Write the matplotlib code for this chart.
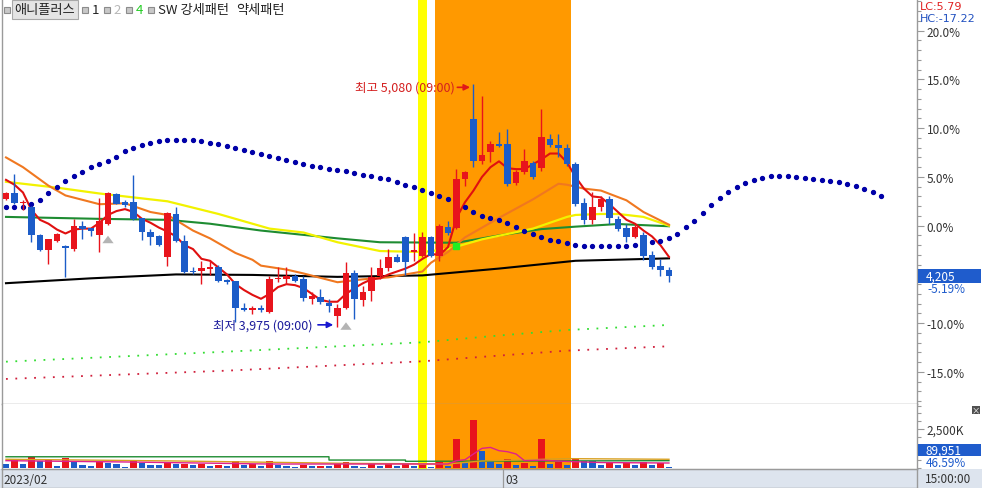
import numpy as np
import matplotlib
matplotlib.use("Agg")
import matplotlib.pyplot as plt
from matplotlib.patches import Rectangle
from matplotlib.ticker import MultipleLocator
import matplotlib.transforms as mtransforms

plt.rcParams['font.family'] = ['Noto Sans CJK KR', 'DejaVu Sans']

W, H = 982, 489

# daily candles, % change against base price
base_price = 4435
open_pct = [2.74, 3.35, 2.33, 1.95, -0.92, -2.46, -1.54, -2.08, -2.39, -0.06,
            -0.27, -0.92, 0.17, 3.25, 2.40, 2.40, 0.76, -0.68, -1.03, -3.24,
            1.20, -1.54, -4.62, -4.65, -4.44, -4.27, -5.57, -5.70, -8.47, -8.68,
            -8.41, -8.88, -5.47, -5.47, -5.13, -5.47, -7.52, -7.28, -7.93, -9.23,
            -8.47, -4.88, -7.59, -6.67, -5.13, -4.37, -3.24, -1.19, -2.70, -3.08,
            -1.19, -3.08, -0.16, -0.27, 4.79, 10.94, 6.67, 7.59, 8.38, 8.38,
            4.35, 5.48, 6.40, 5.89, 8.89, 8.28, 7.94, 6.33, 2.33, 0.62,
            1.89, 2.74, 0.69, -0.27, -1.19, -0.95, -3.01, -4.10, -4.51]
high_pct = [3.46, 5.30, 2.64, 2.02, -0.85, -1.36, -0.75, -1.98, 0.69, 0.51,
            -0.24, 2.81, 3.46, 3.35, 2.64, 5.20, 0.79, -0.34, -0.95, 1.41,
            1.89, -0.95, -4.24, -3.59, -3.49, -4.03, -5.47, -5.64, -7.93, -8.27,
            -8.13, -5.13, -4.27, -4.27, -4.95, -5.13, -6.83, -6.49, -7.52, -8.03,
            -3.72, -4.54, -6.15, -4.27, -3.42, -2.39, -2.90, -1.03, -0.75, -0.65,
            -1.06, 0.17, 0.51, 5.82, 5.61, 14.54, 13.33, 8.72, 9.61, 9.92,
            5.71, 7.87, 6.64, 11.97, 9.40, 9.40, 8.38, 6.53, 2.81, 3.43,
            3.08, 3.08, 1.03, 0.17, 0.07, -0.68, -2.56, -3.42, -4.27]
low_pct = [2.64, 2.23, 1.56, -1.67, -2.59, -3.93, -1.67, -5.23, -2.56, -1.36,
           -1.01, -2.67, 0.07, 2.23, 1.92, 0.58, -1.47, -1.98, -2.08, -4.13,
           -1.67, -4.85, -4.95, -5.98, -5.06, -5.77, -5.98, -9.85, -8.75, -9.06,
           -8.88, -8.95, -5.80, -5.98, -5.80, -7.69, -8.03, -8.03, -8.88, -10.37,
           -8.54, -9.57, -8.21, -7.69, -5.47, -4.62, -3.75, -5.06, -3.62, -3.21,
           -3.21, -3.59, -0.95, -0.34, 4.10, 5.99, 6.33, 6.50, 8.07, 4.10,
           4.17, 5.30, 4.79, 5.61, 8.07, 7.05, 6.12, 2.05, 0.17, 0.17,
           1.54, 0.17, -0.51, -1.70, -1.26, -3.49, -4.44, -5.13, -5.80]
close_pct = [3.35, 2.33, 2.43, -0.95, -2.49, -1.36, -0.85, -2.32, -0.06, -0.34,
             -0.54, 0.51, 3.35, 2.23, 2.15, 0.69, -0.68, -1.13, -1.98, 1.30,
             -1.60, -4.72, -4.78, -4.37, -4.24, -5.64, -5.74, -8.47, -8.68, -8.47,
             -8.68, -5.47, -5.39, -5.19, -5.64, -7.45, -7.24, -7.86, -8.21, -8.47,
             -4.88, -7.52, -6.77, -5.29, -4.37, -3.24, -3.69, -3.69, -2.49, -1.19,
             -3.08, 0.00, -0.75, 4.79, 5.48, 6.67, 7.25, 8.38, 8.14, 4.28,
             5.48, 6.67, 4.96, 9.07, 8.28, 7.94, 6.33, 2.23, 0.62, 1.89,
             2.74, 0.76, -0.34, -1.13, -0.16, -3.08, -4.21, -4.51, -5.19]
volume_k = [250, 510, 250, 720, 470, 510, 150, 640, 360, 190,
            150, 400, 300, 240, 90, 430, 320, 210, 200, 380,
            260, 280, 190, 240, 150, 190, 150, 470, 190, 230,
            130, 470, 190, 130, 90, 190, 130, 150, 100, 260,
            365, 150, 90, 256, 150, 300, 150, 256, 150, 190,
            90, 365, 150, 1860, 300, 3080, 1110, 470, 256, 580,
            190, 320, 150, 1860, 256, 365, 190, 580, 470, 460,
            190, 320, 190, 320, 210, 365, 210, 320, 90]

# moving averages (candle index, %)
ma5 = [4.7, 4.2, 3.4, 1.6, 0.6, 0.2, -0.4, -0.8, -0.4, -0.3,
       -0.3, 0.3, 1.1, 1.5, 1.7, 1.4, 0.7, 0.3, -0.2, -0.6,
       -1.1, -2.0, -2.4, -3.4, -3.6, -4.3, -5.0, -6.0, -6.6, -7.1,
       -7.5, -7.0, -6.3, -6.0, -6.1, -6.4, -7.0, -7.6, -7.8, -7.8,
       -7.0, -6.4, -5.9, -5.5, -5.4, -5.0, -4.7, -4.4, -4.0, -3.4,
       -2.9, -3.0, -2.2, 0.8, 2.4, 3.6, 5.0, 6.0, 6.6, 5.9,
       5.8, 5.8, 6.3, 6.8, 7.4, 7.4, 6.5, 5.0, 3.8, 3.0,
       2.9, 2.2, 1.4, 0.6, 0.2, -0.5, -1.1, -2.0, -3.2]
ma10_idx = [0, 2, 5, 7, 11, 14, 17, 19, 22, 24, 27, 29, 30, 33, 35, 39, 42, 45, 49, 50,
            52, 54, 58, 62, 65, 66, 68, 70, 73, 75, 78]
ma10 = [7.0, 6.0, 4.1, 3.1, 2.2, 2.3, 1.4, 1.1, -0.5, -1.3, -2.8, -3.5, -4.1, -4.5, -4.9,
        -5.8, -5.5, -5.3, -4.7, -3.8, -2.7, -1.2, 0.8, 2.7, 4.3, 4.2, 3.8, 3.6, 2.6, 1.4, 0.1]
ma20_idx = [0, 6, 11, 19, 25, 31, 35, 39, 44, 49, 52, 56, 62, 66, 67, 70, 72, 75, 78]
ma20 = [4.5, 3.9, 3.3, 2.5, 1.2, -0.3, -0.7, -1.7, -2.6, -2.7, -2.4, -1.4, -0.3, 0.9, 1.1,
        1.2, 1.2, 0.9, 0.0]
ma60_idx = [0, 11, 19, 24, 30, 39, 44, 53, 58, 63, 67, 72, 78]
ma60 = [0.9, 0.7, 0.6, 0.2, -0.5, -1.3, -1.7, -1.75, -1.0, -0.35, -0.1, 0.17, -0.06]
ma120_idx = [0, 10, 20, 29, 39, 49, 58, 67, 78]
ma120 = [-5.9, -5.4, -5.0, -5.05, -5.25, -5.1, -4.4, -3.6, -3.35]

# dotted indicator that runs past the last candle
dot_line = [1.95, 1.95, 1.95, 2.23, 2.67, 3.32, 4.00, 4.62, 5.13, 5.54,
            5.99, 6.36, 6.64, 7.05, 7.66, 7.97, 8.28, 8.48, 8.64, 8.74,
            8.79, 8.79, 8.74, 8.64, 8.48, 8.33, 8.17, 7.97, 7.76, 7.56,
            7.36, 7.15, 6.95, 6.74, 6.54, 6.33, 6.13, 5.97, 5.82, 5.71,
            5.58, 5.41, 5.23, 5.10, 4.92, 4.79, 4.51, 4.17, 3.94, 3.69,
            3.35, 3.08, 2.74, 2.33, 1.89, 1.37, 1.03, 0.82, 0.59, 0.25,
            -0.16, -0.51, -0.85, -1.13, -1.47, -1.57, -1.77, -1.95, -2.05, -2.05,
            -2.05, -2.05, -2.05, -2.05, -1.95, -1.77, -1.70, -1.62, -1.23, -0.82,
            -0.13, 0.48, 1.30, 2.12, 2.84, 3.46, 3.97, 4.38, 4.69, 4.89,
            5.05, 5.10, 5.05, 4.99, 4.89, 4.79, 4.69, 4.58, 4.43, 4.28,
            4.07, 3.76, 3.46, 3.05]

env_idx = [0, 26, 49, 57, 66, 78]
env_upper = [-13.95, -12.92, -11.96, -11.34, -10.70, -10.18]
env_lower = [-15.72, -14.87, -13.91, -13.39, -12.82, -12.37]

vol_ma5_idx = [0, 15, 31, 52, 53, 54, 55, 56, 57, 58, 59, 60, 61, 63, 66, 70, 78]
vol_ma5 = [470, 380, 255, 255, 470, 530, 900, 1260, 1320, 1110, 1045, 900, 470, 500, 420, 350, 320]
vol_ma20_idx = [0, 20, 40, 52, 56, 66, 78]
vol_ma20 = [560, 450, 300, 260, 450, 600, 560]
vol_ma60_idx = [0, 38, 38, 47, 47, 78]
vol_ma60 = [720, 720, 510, 510, 430, 470]

yellow_day = 49
orange_days = (51, 66)
buy_signal_idx = [12, 40]
buy_signal_pct = [-1.03, -9.91]
green_mark = (53, -2.05)
month_idx = [0, 59]
month_labels = ['2023/02', '03']

RED, BLUE = '#e8141c', '#1c5cc8'
GRAY = '#9a9a9a'


def box(x0, y0, x1, y1):
    return [x0 / W, 1 - y1 / H, (x1 - x0) / W, (y1 - y0) / H]


def fx(px):
    return px / W


def fy(py):
    return 1 - py / H


fig = plt.figure(figsize=(W / 100, H / 100), dpi=100)
fig.patches.append(Rectangle((0, 0), 1, 19 / H, transform=fig.transFigure,
                             facecolor='#dde4ee', edgecolor='none', zorder=-5))

ax = fig.add_axes(box(2, 0, 917, 405))
axv = fig.add_axes(box(2, 405, 917, 470), sharex=ax)
axd = fig.add_axes(box(2, 470, 917, 489), sharex=ax)

o, hi, lo, c = map(np.array, (open_pct, high_pct, low_pct, close_pct))
n = len(o)
x = np.arange(n)
cols = np.where(c >= o, RED, BLUE)

for a in (ax, axv):
    a.axvspan(yellow_day - 0.5, yellow_day + 0.5, color='#ffff00', lw=0, zorder=0)
    a.axvspan(orange_days[0] - 0.5, orange_days[1] + 0.5, color='#ff9900', lw=0, zorder=0)

# price panel
ax.plot(env_idx, env_upper, color='#33dd33', lw=1.3, ls=(0, (1, 4.2)), zorder=1)
ax.plot(env_idx, env_lower, color='#d0203c', lw=1.3, ls=(0, (1, 4.2)), zorder=1)
ax.plot(ma120_idx, ma120, color='black', lw=1.5, zorder=2)
ax.plot(ma60_idx, ma60, color='#1e8c32', lw=1.5, zorder=2)
ax.plot(ma20_idx, ma20, color='#f2f200', lw=1.6, zorder=2)
ax.plot(ma10_idx, ma10, color='#f07820', lw=1.5, zorder=2)
ax.plot(x, ma5, color='#e01010', lw=1.5, zorder=2.2)
ax.plot(np.arange(len(dot_line)), dot_line, 'o', ms=2.8, color='#0000a8', zorder=2.5)

body_bottom = np.minimum(o, c)
body_h = np.maximum(np.abs(c - o), 0.12)
ax.vlines(x, lo, hi, colors=cols, lw=1, zorder=3)
ax.bar(x, body_h, bottom=body_bottom, width=0.78, color=cols, lw=0, zorder=3.5)

ax.plot([green_mark[0]], [green_mark[1]], 's', ms=5, color='#22ee22', zorder=4)
for i, tip in zip(buy_signal_idx, buy_signal_pct):
    ax.annotate('', xy=(i, tip), xytext=(i, tip - 0.75),
                arrowprops=dict(arrowstyle='simple,head_length=0.6,head_width=0.9,tail_width=0.4',
                                color='#b4b4b4', lw=0, shrinkA=0, shrinkB=0,
                                mutation_scale=9), zorder=4)

i_hi = int(np.argmax(hi))
i_lo = int(np.argmin(lo))
hi_price = round(base_price * (1 + hi[i_hi] / 100))
lo_price = round(base_price * (1 + lo[i_lo] / 100))
ax.text(i_hi - 2.2, hi[i_hi] - 0.35, f'최고 {hi_price:,} (09:00)', color='#d42020',
        ha='right', va='center', fontsize=9, zorder=5)
ax.annotate('', xy=(i_hi - 0.4, hi[i_hi] - 0.35), xytext=(i_hi - 1.9, hi[i_hi] - 0.35),
            arrowprops=dict(arrowstyle='-|>', color='#e01818', lw=1.2, mutation_scale=9,
                            shrinkA=0, shrinkB=0), zorder=5)
ax.text(i_lo - 2.9, lo[i_lo] + 0.2, f'최저 {lo_price:,} (09:00)', color='#1c1c9c',
        ha='right', va='center', fontsize=9, zorder=5)
ax.annotate('', xy=(i_lo - 0.5, lo[i_lo] + 0.2), xytext=(i_lo - 2.3, lo[i_lo] + 0.2),
            arrowprops=dict(arrowstyle='-|>', color='#1818d0', lw=1.2, mutation_scale=9,
                            shrinkA=0, shrinkB=0), zorder=5)

ax.set_xlim(-0.47, 107.18)
ax.set_ylim(-18.29, 23.25)
ax.yaxis.tick_right()
yt = [-15, -10, -5, 0, 5, 10, 15, 20]
ax.set_yticks(yt)
ax.set_yticklabels(['' if v == -5 else f'{v:.1f}%' for v in yt])
ax.yaxis.set_minor_locator(MultipleLocator(1))
ax.tick_params(axis='y', which='major', length=5, width=0.8, color=GRAY,
               labelsize=8.5, labelcolor='#333333', pad=2)
ax.tick_params(axis='y', which='minor', length=3, width=0.8, color=GRAY)
ax.tick_params(axis='x', which='both', bottom=False, labelbottom=False)

# volume panel
v = np.array(volume_k)
vcols = [BLUE] + [RED if v[i] > v[i - 1] else BLUE for i in range(1, n)]
axv.bar(x, v, width=0.78, color=vcols, lw=0, zorder=2)
axv.plot(vol_ma60_idx, vol_ma60, color='#1e8c32', lw=1, zorder=3)
axv.plot(vol_ma20_idx, vol_ma20, color='#d8a020', lw=1, zorder=3)
axv.plot(vol_ma5_idx, vol_ma5, color='#e0208c', lw=1, zorder=3)
axv.set_ylim(-64, 4103)
axv.yaxis.tick_right()
axv.set_yticks([2500])
axv.set_yticklabels(['2,500K'])
axv.yaxis.set_minor_locator(MultipleLocator(500))
axv.tick_params(axis='y', which='major', length=5, width=0.8, color=GRAY,
                labelsize=8.5, labelcolor='#333333', pad=2)
axv.tick_params(axis='y', which='minor', length=3, width=0.8, color=GRAY)
axv.tick_params(axis='x', which='both', bottom=False, labelbottom=False)

# date strip
axd.set_facecolor('none')
axd.set_ylim(0, 1)
axd.set_yticks([])
axd.tick_params(axis='x', which='both', bottom=False, labelbottom=False)
for i, lab in zip(month_idx, month_labels):
    if i > 0:
        axd.axvline(i - 0.5, color=GRAY, lw=0.9)
    axd.text(i - 0.25 if i == 0 else i - 0.3, 0.45, lab, ha='left', va='center',
             fontsize=8.5, color='#333333')
fig.text(fx(925), fy(479.5), '15:00:00', ha='left', va='center', fontsize=8.5, color='#333333')

for a in (ax, axv, axd):
    a.spines['top'].set_visible(False)
    for s in ('left', 'right', 'bottom'):
        a.spines[s].set_color(GRAY)
        a.spines[s].set_linewidth(1)
axd.spines['top'].set_visible(True)
axd.spines['top'].set_color(GRAY)

# last price / volume tags on the right scale
tr = mtransforms.blended_transform_factory(ax.transAxes, ax.transData)
last_price = round(base_price * (1 + c[-1] / 100))
ax.add_patch(Rectangle((1.001, c[-1] - 0.66), 0.069, 1.44, transform=tr,
                       facecolor='#1f5ccc', edgecolor='none', clip_on=False, zorder=6))
ax.text(1.0095, c[-1] + 0.06, f'{last_price:,}', transform=tr, color='white',
        ha='left', va='center', fontsize=8.5, clip_on=False, zorder=7)
ax.text(1.0115, c[-1] - 1.25, f'{c[-1]:.2f}%', transform=tr, color='#1f5ccc',
        ha='left', va='center', fontsize=8.5, clip_on=False, zorder=7)

axv.add_patch(Rectangle((1.001, 0.2), 0.069, 0.185, transform=axv.transAxes,
                        facecolor='#1f5ccc', edgecolor='none', clip_on=False, zorder=6))
axv.text(1.0095, 0.29, '89,951', transform=axv.transAxes, color='white',
         ha='left', va='center', fontsize=8.5, clip_on=False, zorder=7)
axv.text(1.0095, 0.10, '46.59%', transform=axv.transAxes, color='#1f5ccc',
         ha='left', va='center', fontsize=8.5, clip_on=False, zorder=7)

fig.text(fx(920), fy(7), 'LC:5.79', color='#e02020', ha='left', va='center',
         fontsize=8, family='DejaVu Sans')
fig.text(fx(920), fy(19), 'HC:-17.22', color='#2050c0', ha='left', va='center',
         fontsize=8, family='DejaVu Sans')

fig.patches.append(Rectangle((fx(972), fy(415)), 8 / W, 8 / H, transform=fig.transFigure,
                             facecolor='#505050', edgecolor='none', zorder=8))
fig.text(fx(976), fy(411), '×', color='white', ha='center', va='center', fontsize=6, zorder=9)

# legend row
for sx in (4, 82, 104, 126, 148):
    fig.patches.append(Rectangle((fx(sx), fy(14)), 6 / W, 6 / H, transform=fig.transFigure,
                                 facecolor='#c8c8c8', edgecolor='#8c8c8c', lw=0.8, zorder=8))
fig.patches.append(Rectangle((fx(12), fy(20)), 66 / W, 19 / H, transform=fig.transFigure,
                             facecolor='#e4e4e4', edgecolor='#a8a8a8', lw=0.8, zorder=8))
fig.text(fx(45), fy(10.5), '애니플러스', ha='center', va='center', fontsize=9.5, color='#222222', zorder=9)
fig.text(fx(95), fy(10.5), '1', ha='center', va='center', fontsize=9.5, color='#222222')
fig.text(fx(117), fy(10.5), '2', ha='center', va='center', fontsize=9.5, color='#b8b8b8')
fig.text(fx(139), fy(10.5), '4', ha='center', va='center', fontsize=9.5, color='#22cc22')
fig.text(fx(158), fy(10.5), 'SW 강세패턴', ha='left', va='center', fontsize=9.5, color='#222222')
fig.text(fx(236), fy(10.5), '약세패턴', ha='left', va='center', fontsize=9.5, color='#222222')

fig.savefig('out.png', dpi=100)
